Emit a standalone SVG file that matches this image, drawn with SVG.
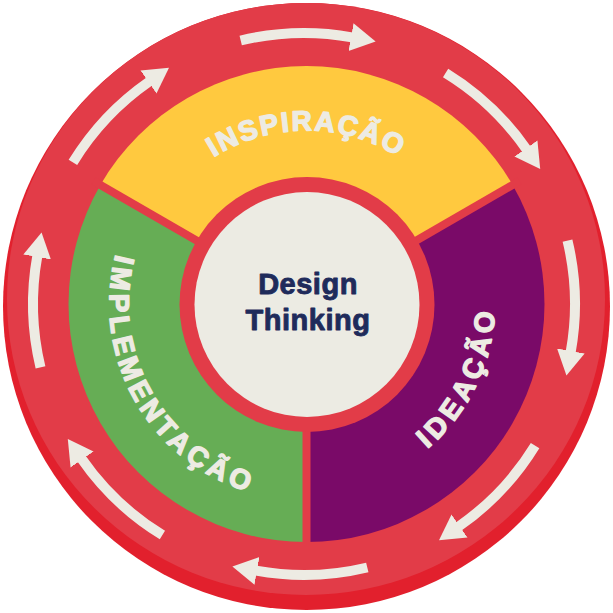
<svg xmlns="http://www.w3.org/2000/svg" xmlns:xlink="http://www.w3.org/1999/xlink" width="613" height="613" viewBox="0 0 613 613">
  <style>
    .lbl { font-family: "Liberation Sans", Arial, sans-serif; font-weight: bold; font-size: 28px; fill: #EDEBE3; stroke: #EDEBE3; stroke-width: 1.4px; stroke-linejoin: round; }
    .ctr { font-family: "Liberation Sans", Arial, sans-serif; font-weight: bold; font-size: 29px; fill: #1F2B5B; stroke: #1F2B5B; stroke-width: 0.9px; stroke-linejoin: round; text-anchor: middle; letter-spacing: 0.5px; }
    .arrow { fill: none; stroke: #EDEBE3; stroke-width: 10; marker-end: url(#head); }
    .divider { stroke: #E23C48; stroke-width: 8; }
  </style>
  <defs>
    <marker id="head" markerUnits="userSpaceOnUse" markerWidth="26" markerHeight="30" viewBox="0 -15 26 30" refX="1" refY="0" orient="auto">
      <path d="M0,-14 L25,0 L0,14 Z" fill="#EDEBE3"/>
    </marker>
    <path id="arcTop" d="M133,304 A173.5,173.5 0 0 1 480,304"/>
    <path id="arcIdeacao" d="M223.3,476.7 A191.5,191.5 0 0 0 388.7,131.3"/>
    <path id="arcImpl" d="M208.9,133.1 A196.5,196.5 0 0 0 403.1,474.9"/>
  </defs>

  <g id="background">
    <circle cx="306.5" cy="306.5" r="303.5" fill="#E2202D"/>
    <ellipse cx="306" cy="299" rx="299" ry="296" fill="#E23C48"/>
  </g>

  <g id="inspiracao">
    <path d="M306.5,304 L100.4,185 A238,238 0 0 1 512.6,185 Z" fill="#FFC93F"/>
    <text class="lbl" letter-spacing="2"><textPath href="#arcTop" xlink:href="#arcTop" startOffset="50%" text-anchor="middle">INSPIRAÇÃO</textPath></text>
  </g>

  <g id="ideacao">
    <path d="M306.5,304 L512.6,185 A238,238 0 0 1 306.5,542 Z" fill="#7A0A68"/>
    <text class="lbl" letter-spacing="4.6"><textPath href="#arcIdeacao" xlink:href="#arcIdeacao" startOffset="50%" text-anchor="middle">IDEAÇÃO</textPath></text>
  </g>

  <g id="implementacao">
    <path d="M306.5,304 L306.5,542 A238,238 0 0 1 100.4,185 Z" fill="#66AD55"/>
    <text class="lbl" letter-spacing="4.5"><textPath href="#arcImpl" xlink:href="#arcImpl" startOffset="50%" text-anchor="middle">IMPLEMENTAÇÃO</textPath></text>
  </g>

  <g id="dividers">
    <line class="divider" x1="306.5" y1="304" x2="93.5" y2="181"/>
    <line class="divider" x1="306.5" y1="304" x2="519.5" y2="181"/>
    <line class="divider" x1="306.5" y1="304" x2="306.5" y2="549"/>
  </g>

  <g id="design-thinking">
    <circle cx="307" cy="304.5" r="127.5" fill="#E23C48"/>
    <circle cx="307" cy="304.5" r="112.5" fill="#ECEBE3"/>
    <text class="ctr" x="308" y="293.5">Design</text>
    <text class="ctr" x="308" y="330">Thinking</text>
  </g>

  <g id="connectors">
    <path class="arrow" d="M240.7,40.5 A271,271 0 0 1 352.0,37.3"/>
    <path class="arrow" d="M445.6,72.9 A271,271 0 0 1 526.5,149.3"/>
    <path class="arrow" d="M567.5,240.7 A271,271 0 0 1 570.7,352.0"/>
    <path class="arrow" d="M535.1,445.6 A271,271 0 0 1 458.7,526.5"/>
    <path class="arrow" d="M367.3,567.5 A271,271 0 0 1 256.0,570.7"/>
    <path class="arrow" d="M162.4,535.1 A271,271 0 0 1 81.5,458.7"/>
    <path class="arrow" d="M40.5,367.3 A271,271 0 0 1 37.3,256.0"/>
    <path class="arrow" d="M72.9,162.4 A271,271 0 0 1 149.3,81.5"/>
  </g>
</svg>
